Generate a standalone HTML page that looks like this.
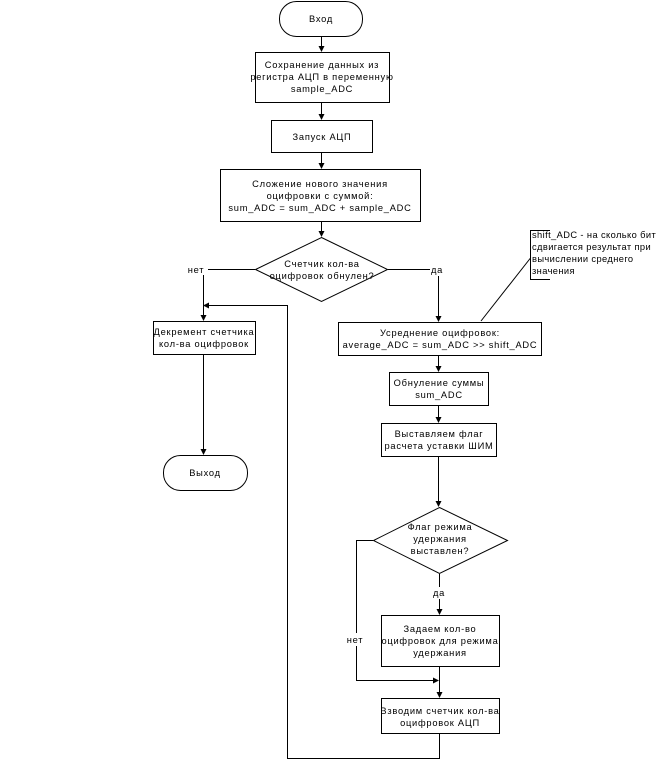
<!DOCTYPE html>
<html><head><meta charset="utf-8"><style>
html,body{margin:0;padding:0;background:#fff;}
svg{display:block;}
text{font-family:"Liberation Sans",Arial,sans-serif;font-size:9.3px;letter-spacing:0.75px;fill:#000;}
</style></head><body>
<svg width="659" height="767" viewBox="0 0 659 767" xmlns="http://www.w3.org/2000/svg">
<defs>
<marker id="a" markerWidth="6" markerHeight="6" refX="5" refY="3" orient="auto" markerUnits="userSpaceOnUse">
<path d="M0,0 L6,3 L0,6 z" fill="#000"/>
</marker>
</defs>
<g fill="none" stroke="#000" stroke-width="1">
<rect x="279.5" y="1.5" width="83" height="35" rx="17" ry="17"/>
<line x1="321.5" y1="37" x2="321.5" y2="51" marker-end="url(#a)"/>
<rect x="255.5" y="52.5" width="134" height="50"/>
<line x1="321.5" y1="103" x2="321.5" y2="119" marker-end="url(#a)"/>
<rect x="271.5" y="120.5" width="101" height="32"/>
<line x1="321.5" y1="153" x2="321.5" y2="168" marker-end="url(#a)"/>
<rect x="220.5" y="169.5" width="200" height="52"/>
<line x1="321.5" y1="222" x2="321.5" y2="236" marker-end="url(#a)"/>
<polygon points="321.5,237.5 387.5,269.5 321.5,301.5 255.5,269.5"/>
<line x1="255" y1="269.5" x2="208" y2="269.5"/>
<line x1="203.5" y1="275" x2="203.5" y2="320" marker-end="url(#a)"/>
<rect x="153.5" y="321.5" width="102" height="33"/>
<line x1="203.5" y1="355" x2="203.5" y2="454" marker-end="url(#a)"/>
<rect x="163.5" y="455.5" width="84" height="35" rx="17" ry="17"/>
<polyline points="439.5,734 439.5,758.5 287.5,758.5 287.5,305.5 204,305.5" marker-end="url(#a)"/>
<line x1="388" y1="269.5" x2="430" y2="269.5"/>
<line x1="438.5" y1="276" x2="438.5" y2="321" marker-end="url(#a)"/>
<rect x="338.5" y="322.5" width="203" height="33"/>
<line x1="438.5" y1="356" x2="438.5" y2="371" marker-end="url(#a)"/>
<rect x="389.5" y="372.5" width="99" height="33"/>
<line x1="438.5" y1="406" x2="438.5" y2="422" marker-end="url(#a)"/>
<rect x="381.5" y="423.5" width="115" height="33"/>
<line x1="438.5" y1="457" x2="438.5" y2="506" marker-end="url(#a)"/>
<polygon points="439.5,507.5 507.5,540.5 439.5,573.5 373.5,540.5"/>
<line x1="439.5" y1="574" x2="439.5" y2="587"/>
<line x1="439.5" y1="599" x2="439.5" y2="614" marker-end="url(#a)"/>
<rect x="381.5" y="615.5" width="118" height="51"/>
<line x1="439.5" y1="667" x2="439.5" y2="697" marker-end="url(#a)"/>
<polyline points="373,540.5 356.5,540.5 356.5,633"/>
<polyline points="356.5,646 356.5,680.5 438,680.5" marker-end="url(#a)"/>
<rect x="381.5" y="698.5" width="118" height="35"/>
<polyline points="550,230.5 530.5,230.5 530.5,279.5 550,279.5"/>
<line x1="530.5" y1="258" x2="481" y2="321"/>
</g>
<g text-anchor="middle">
<text x="321" y="22">Вход</text>
<text x="322" y="68">Сохранение данных из</text>
<text x="322" y="80">регистра АЦП в переменную</text>
<text x="322" y="92">sample_ADC</text>
<text x="322" y="140">Запуск АЦП</text>
<text x="320" y="187">Сложение нового значения</text>
<text x="320" y="199">оцифровки с суммой:</text>
<text x="320" y="211">sum_ADC = sum_ADC + sample_ADC</text>
<text x="322" y="267">Счетчик кол-ва</text>
<text x="322" y="279">оцифровок обнулен?</text>
<text x="196" y="273">нет</text>
<text x="437" y="273">да</text>
<text x="204" y="335">Декремент счетчика</text>
<text x="204" y="347">кол-ва оцифровок</text>
<text x="205" y="476">Выход</text>
<text x="440" y="336">Усреднение оцифровок:</text>
<text x="440" y="348">average_ADC = sum_ADC &gt;&gt; shift_ADC</text>
<text x="439" y="386">Обнуление суммы</text>
<text x="439" y="398">sum_ADC</text>
<text x="439" y="437">Выставляем флаг</text>
<text x="439" y="449">расчета уставки ШИМ</text>
<text x="440" y="530">Флаг режима</text>
<text x="440" y="542">удержания</text>
<text x="440" y="554">выставлен?</text>
<text x="439" y="596">да</text>
<text x="440" y="632">Задаем кол-во</text>
<text x="440" y="644">оцифровок для режима</text>
<text x="440" y="656">удержания</text>
<text x="355" y="643">нет</text>
<text x="440" y="714">Взводим счетчик кол-ва</text>
<text x="440" y="726">оцифровок АЦП</text>
</g>
<g>
<text x="532" y="238" style="letter-spacing:0.4px">shift_ADC - на сколько бит</text>
<text x="532" y="250" style="letter-spacing:0.4px">сдвигается результат при</text>
<text x="532" y="262" style="letter-spacing:0.4px">вычислении среднего</text>
<text x="532" y="274" style="letter-spacing:0.4px">значения</text>
</g>
</svg>
</body></html>
